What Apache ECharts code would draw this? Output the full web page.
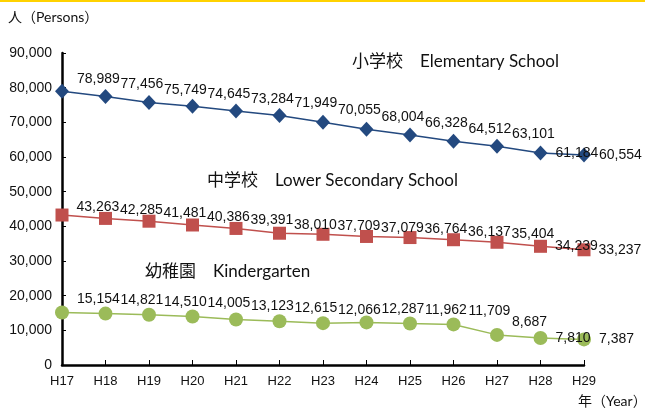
<!DOCTYPE html>
<html>
<head>
<meta charset="utf-8">
<script src="https://cdn.jsdelivr.net/npm/echarts@6/dist/echarts.min.js"></script>
<style>
  html, body { margin: 0; padding: 0; background: #fff; }
  #bar { height: 2px; background: #FFD200; }
  #chart { width: 645px; height: 408px; }
</style>
</head>
<body>
<div id="bar"></div>
<div id="chart"></div>
<script>
// 年度
const years = ['H17', 'H18', 'H19', 'H20', 'H21', 'H22', 'H23', 'H24', 'H25', 'H26', 'H27', 'H28', 'H29'];
// 小学校
const elementary = [78989, 77456, 75749, 74645, 73284, 71949, 70055, 68004, 66328, 64512, 63101, 61184, 60554];
// 中学校
const lowerSecondary = [43263, 42285, 41481, 40386, 39391, 38010, 37709, 37079, 36764, 36137, 35404, 34239, 33237];
// 幼稚園
const kindergarten = [15154, 14821, 14510, 14005, 13123, 12615, 12066, 12287, 11962, 11709, 8687, 7810, 7387];

const yTicks = { min: 0, max: 90000, interval: 10000 };

const numFont = '"Liberation Sans", Arial, sans-serif';
const jpFont = 'Lato, "Noto Sans CJK JP", sans-serif';

function fmt(v) {
  return v.toLocaleString('en-US');
}

function makeSeries(name, values, color, symbol, size, dy) {
  return {
    name: name,
    type: 'line',
    data: values,
    symbol: symbol,
    symbolSize: size,
    lineStyle: { color: color, width: 1.5 },
    itemStyle: { color: color },
    label: {
      show: true,
      position: 'right',
      distance: 8,
      color: '#111',
      fontFamily: numFont,
      fontSize: 14,
      formatter: p => fmt(p.value)
    },
    labelLayout: p => {
      // 最後の2点はラベルを横に並べる
      return p.dataIndex >= values.length - 2 ? { dy: 0 } : { dy: dy };
    },
    z: 3
  };
}

const chart = echarts.init(document.getElementById('chart'), null, { renderer: 'canvas' });

chart.setOption({
  animation: false,
  grid: { left: 62, right: 61, top: 51, bottom: 45 },
  xAxis: {
    type: 'category',
    data: years,
    boundaryGap: false,
    axisLine: { lineStyle: { color: '#000', width: 2.5 } },
    axisTick: { inside: true, length: 5, lineStyle: { color: '#000', width: 1 } },
    axisLabel: { color: '#111', fontFamily: numFont, fontSize: 13, margin: 10 }
  },
  yAxis: {
    type: 'value',
    min: yTicks.min,
    max: yTicks.max,
    interval: yTicks.interval,
    axisLine: { show: true, lineStyle: { color: '#000', width: 2.5 } },
    axisTick: { show: true, inside: true, length: 4, lineStyle: { color: '#000', width: 1 } },
    splitLine: { show: false },
    axisLabel: { color: '#111', fontFamily: numFont, fontSize: 14, margin: 10, formatter: v => fmt(v) }
  },
  series: [
    makeSeries('小学校', elementary, '#23497F', 'diamond', [14, 15], -12),
    makeSeries('中学校', lowerSecondary, '#C0504D', 'rect', 13, -8),
    makeSeries('幼稚園', kindergarten, '#9BBB59', 'circle', 14, -13)
  ],
  graphic: [
    { type: 'text', left: 8, top: 8, style: { text: '人（Persons）', font: '14px ' + jpFont, fill: '#111' } },
    { type: 'text', left: 578, top: 392, style: { text: '年（Year）', font: '14px ' + jpFont, fill: '#111' } },
    { type: 'text', left: 352, top: 51, style: { text: '小学校　Elementary School', font: '17px ' + jpFont, fill: '#111' } },
    { type: 'text', left: 207, top: 170, style: { text: '中学校　Lower Secondary School', font: '17px ' + jpFont, fill: '#111' } },
    { type: 'text', left: 145, top: 261, style: { text: '幼稚園　Kindergarten', font: '17px ' + jpFont, fill: '#111' } }
  ]
});
</script>
</body>
</html>
